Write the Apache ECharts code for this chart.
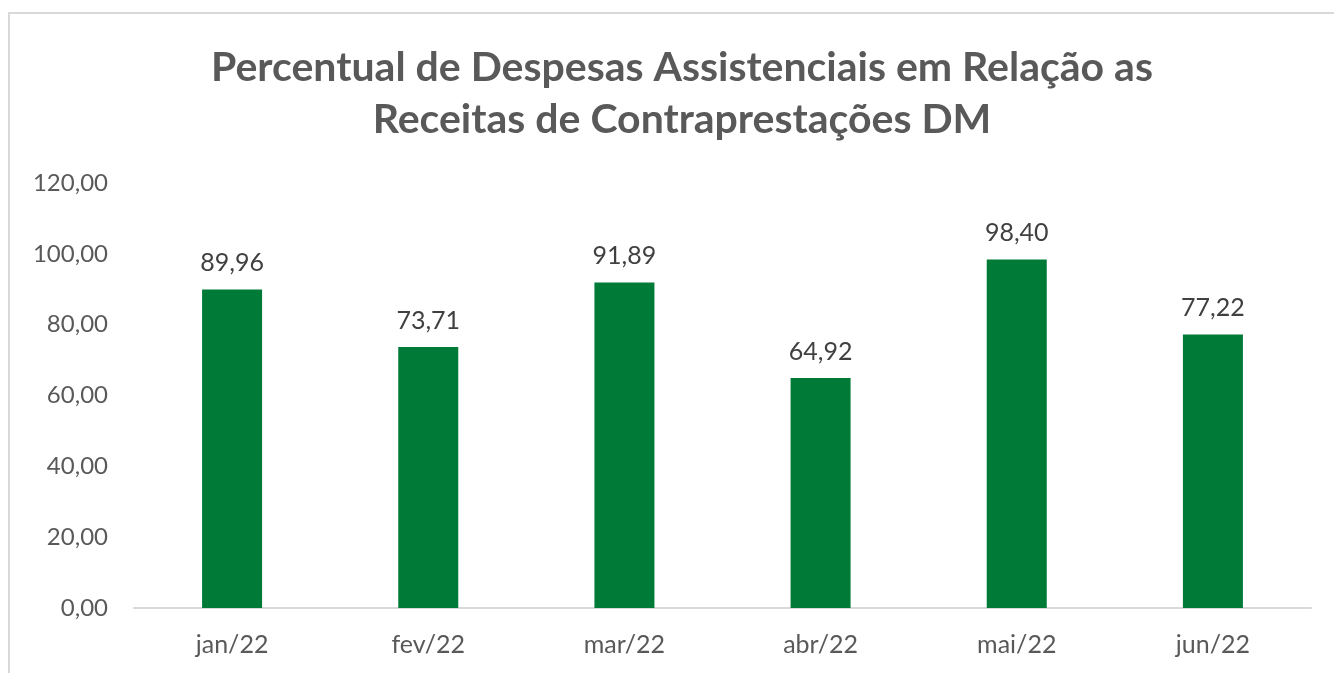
<!DOCTYPE html>
<html>
<head>
<meta charset="utf-8">
<script src="https://cdn.jsdelivr.net/npm/echarts@6/dist/echarts.min.js"></script>
<style>
    html, body { margin: 0; padding: 0; background: #fff; }
    #chart { width: 1334px; height: 673px; }
</style>
</head>
<body>
<div id="chart"></div>
<script>
const months = ['jan/22', 'fev/22', 'mar/22', 'abr/22', 'mai/22', 'jun/22'];
const percentual = [89.96, 73.71, 91.89, 64.92, 98.40, 77.22];
const yTicks = [0, 20, 40, 60, 80, 100, 120];

const fmt = function (v) {
    return Number(v).toFixed(2).replace('.', ',');
};

var chart = echarts.init(document.getElementById('chart'));
chart.setOption({
    animation: false,
    textStyle: { fontFamily: 'Lato' },
    title: {
        text: 'Percentual de Despesas Assistenciais em Relação as\nReceitas de Contraprestações DM',
        left: 677,
        textAlign: 'center',
        top: 37,
        textStyle: {
            fontFamily: 'Lato',
            fontSize: 41,
            fontWeight: 'bold',
            color: '#595959',
            lineHeight: 52
        }
    },
    // moldura cinza em volta do gráfico
    graphic: [{
        type: 'rect',
        shape: { x: 9, y: 13, width: 1340, height: 680 },
        style: { fill: 'none', stroke: '#d9d9d9', lineWidth: 2 },
        silent: true
    }],
    grid: { left: 134, right: 23, top: 183, bottom: 65 },
    xAxis: {
        type: 'category',
        data: months,
        axisLine: { lineStyle: { color: '#d9d9d9', width: 2 } },
        axisTick: { show: false },
        axisLabel: { color: '#595959', fontSize: 25, margin: 24 }
    },
    yAxis: {
        type: 'value',
        min: yTicks[0],
        max: yTicks[yTicks.length - 1],
        interval: 20,
        splitLine: { show: false },
        axisLine: { show: false },
        axisTick: { show: false },
        axisLabel: { color: '#595959', fontSize: 24, margin: 26, formatter: fmt }
    },
    series: [{
        type: 'bar',
        data: percentual,
        barWidth: 60,
        itemStyle: { color: '#007A37' },
        label: {
            show: true,
            position: 'top',
            distance: 14,
            color: '#404040',
            fontSize: 25,
            formatter: function (p) { return fmt(p.value); }
        }
    }]
});
</script>
</body>
</html>
